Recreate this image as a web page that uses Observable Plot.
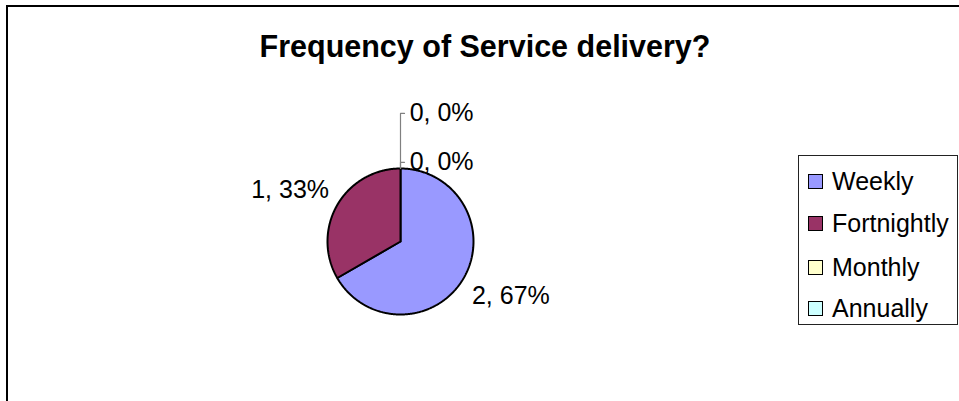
<!DOCTYPE html>
<html>
<head>
<meta charset="utf-8">
<script src="https://cdn.jsdelivr.net/npm/d3@7"></script>
<script src="https://cdn.jsdelivr.net/npm/@observablehq/plot@0.6"></script>
<style>
  html, body { margin: 0; padding: 0; background: #fff; }
  #wrap { position: relative; width: 959px; height: 401px; overflow: hidden; font-family: Arial, "Liberation Sans", sans-serif; }
  #frame { position: absolute; left: 6px; top: 5px; width: 1000px; height: 500px; border: 2px solid #000; box-sizing: border-box; }
  #chart { position: absolute; left: 0; top: 0; }
  #legend { position: absolute; left: 798px; top: 155px; width: 160px; height: 170px; border: 1px solid #222; box-sizing: border-box; }
  .item { position: absolute; left: 9px; height: 30px; display: flex; align-items: center; font-size: 25px; color: #000; white-space: nowrap; }
  .sw { width: 13px; height: 13px; border: 1px solid #000; margin-right: 9px; }
</style>
</head>
<body>
<div id="wrap">
  <div id="frame"></div>
  <div id="chart"></div>
  <div id="legend"></div>
</div>
<script>
const title = "Frequency of Service delivery?";
const categories = ["Weekly", "Fortnightly", "Monthly", "Annually"];
const counts = [2, 1, 0, 0];
const colors = ["#9999FF", "#993366", "#FFFFCC", "#CCFFFF"];

const total = d3.sum(counts);
const rows = categories.map((c, i) => ({category: c, value: counts[i]}));
const arcs = d3.pie().sort(null).value(d => d.value)(rows);

// slice outlines in unit-circle coordinates (y up, angle 0 at 12 o'clock, clockwise)
const slicePts = [];
for (const a of arcs) {
  if (a.data.value === 0) continue;
  const c = a.data.category;
  slicePts.push({category: c, x: 0, y: 0});
  const n = Math.max(2, Math.ceil((a.endAngle - a.startAngle) / 0.01));
  for (let k = 0; k <= n; k++) {
    const t = a.startAngle + (a.endAngle - a.startAngle) * k / n;
    slicePts.push({category: c, x: Math.sin(t), y: Math.cos(t)});
  }
  slicePts.push({category: c, x: 0, y: 0});
}

// data labels
const labelOf = d => `${d.data.value}, ${Math.round(d.data.value / total * 100)}%`;
const mainLabels = [];
const zeroLabels = [];
const leaders = [];
let zi = 0;
for (const a of arcs) {
  if (a.data.value > 0) {
    const m = (a.startAngle + a.endAngle) / 2;
    const R = 1.13;
    mainLabels.push({
      x: R * Math.sin(m), y: R * Math.cos(m), text: labelOf(a),
      anchor: Math.sin(m) >= 0 ? "start" : "end",
      line: Math.cos(m) >= 0 ? "bottom" : "top"
    });
  } else {
    const ly = 1.085 + zi * 0.67;
    zeroLabels.push({x: 0.125, y: ly, text: labelOf(a)});
    leaders.push({id: zi, x: 0, y: 1}, {id: zi, x: 0, y: ly}, {id: zi, x: 0.055, y: ly});
    zi++;
  }
}

const font = 'Arial, "Liberation Sans", sans-serif';
const chart = Plot.plot({
  width: 959,
  height: 401,
  margin: 0,
  style: {background: "transparent", fontFamily: font},
  x: {domain: [-1, 1], range: [327, 473], axis: null},
  y: {domain: [-1, 1], range: [314, 168], axis: null},
  color: {domain: categories, range: colors},
  marks: [
    Plot.line(slicePts, {x: "x", y: "y", z: "category", fill: "category", stroke: "#000", strokeWidth: 2, strokeLinejoin: "miter", curve: "linear"}),
    Plot.line(leaders, {x: "x", y: "y", z: "id", stroke: "#808080", strokeWidth: 1.2}),
    Plot.text(mainLabels.filter(d => d.anchor === "start"), {x: "x", y: "y", text: "text", textAnchor: "start", lineAnchor: "top", dy: 4, fontSize: 25, fill: "#000"}),
    Plot.text(mainLabels.filter(d => d.anchor === "end"), {x: "x", y: "y", text: "text", textAnchor: "end", lineAnchor: "bottom", dy: -2, fontSize: 25, fill: "#000"}),
    Plot.text(zeroLabels, {x: "x", y: "y", text: "text", textAnchor: "start", lineAnchor: "middle", fontSize: 25, fill: "#000"}),
    Plot.text([title], {frameAnchor: "top", text: d => d, lineAnchor: "top", dy: 35, dx: 5, fontSize: 30.5, fontWeight: "bold", fill: "#000"})
  ]
});
document.getElementById("chart").appendChild(chart);

const legend = document.getElementById("legend");
const rowTops = [10, 52, 96.5, 137.5];
categories.forEach((c, i) => {
  const it = document.createElement("div");
  it.className = "item";
  it.style.top = rowTops[i] + "px";
  const sw = document.createElement("div");
  sw.className = "sw";
  sw.style.background = colors[i];
  const tx = document.createElement("span");
  tx.textContent = c;
  it.appendChild(sw);
  it.appendChild(tx);
  legend.appendChild(it);
});
</script>
</body>
</html>
